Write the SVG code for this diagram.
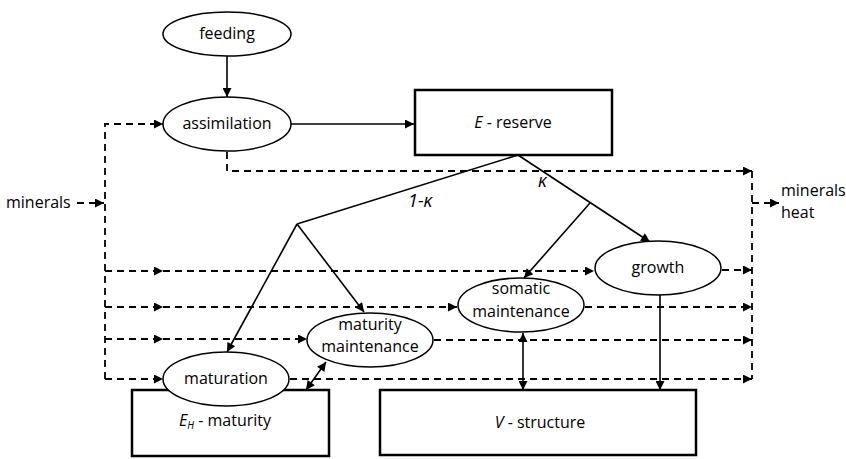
<svg xmlns="http://www.w3.org/2000/svg" width="846" height="459" viewBox="0 0 846 459">
<style>
text{font-family:"Open Sans","Liberation Sans",sans-serif;font-size:16px;fill:#000}
.c{text-anchor:middle}
.i{font-style:italic}
.k{font-style:italic;font-size:18px}
ellipse{fill:#fff;stroke:#000;stroke-width:1.5}
rect{fill:#fff;stroke:#000;stroke-width:2.5}
.s{fill:none;stroke:#000;stroke-width:1.6}
.d{fill:none;stroke:#000;stroke-width:1.8;stroke-dasharray:7 5}
.a{marker-end:url(#ah)}
.b{marker-start:url(#ah);marker-end:url(#ah)}
</style>
<defs>
<marker id="ah" viewBox="0 0 10 10" refX="10" refY="5" markerWidth="11" markerHeight="9" markerUnits="userSpaceOnUse" orient="auto-start-reverse">
<path d="M0,0 L10,5 L0,10 z" fill="#000"/>
</marker>
</defs>
<g id="connectors">
<line class="s a" x1="227" y1="56" x2="227" y2="97"/>
<line class="s a" x1="291" y1="124" x2="414" y2="124"/>
<path class="d a" d="M227,152 V171 H752"/>
<line class="d" x1="752" y1="171" x2="752" y2="379"/>
<line class="d a" x1="752" y1="203" x2="779" y2="203"/>
<line class="d a" x1="77" y1="203" x2="104" y2="203"/>
<path class="d a" d="M105,379 V124 H163"/>
<line class="d a" x1="105" y1="271" x2="163" y2="271"/>
<line class="d a" x1="163" y1="271" x2="594" y2="271"/>
<line class="d a" x1="722" y1="270" x2="752" y2="270"/>
<line class="d a" x1="105" y1="307" x2="163" y2="307"/>
<line class="d a" x1="163" y1="307" x2="457" y2="307"/>
<line class="d a" x1="585" y1="307" x2="752" y2="307"/>
<line class="d a" x1="105" y1="339" x2="163" y2="339"/>
<line class="d a" x1="163" y1="339" x2="307" y2="339"/>
<line class="d a" x1="434" y1="340" x2="752" y2="340"/>
<line class="d a" x1="105" y1="379" x2="163" y2="379"/>
<line class="d a" x1="290" y1="379" x2="752" y2="379"/>
<polyline class="s" points="518,155 297,224"/>
<line class="s a" x1="297" y1="224" x2="227" y2="352"/>
<line class="s a" x1="297" y1="224" x2="364" y2="312"/>
<line class="s a" x1="518" y1="155" x2="650" y2="242"/>
<line class="s a" x1="590" y1="203" x2="524" y2="278"/>
<line class="s b" x1="306" y1="390" x2="326" y2="362"/>
<line class="s b" x1="523" y1="333" x2="523" y2="390"/>
<line class="s a" x1="660" y1="294" x2="660" y2="390"/>
</g>
<g id="feeding"><ellipse cx="227" cy="34" rx="64" ry="22"/><text class="c" x="227" y="39">feeding</text></g>
<g id="assimilation"><ellipse cx="227" cy="124" rx="64" ry="27"/><text class="c" x="227" y="129">assimilation</text></g>
<g id="reserve"><rect x="415" y="90" width="197" height="65"/><text class="c" x="513" y="128"><tspan class="i">E</tspan> - reserve</text></g>
<g id="growth"><ellipse cx="658" cy="268" rx="63" ry="27"/><text class="c" x="658" y="273">growth</text></g>
<g id="somatic-maintenance"><ellipse cx="521" cy="305" rx="63" ry="27"/><text class="c" x="521" y="294">somatic</text><text class="c" x="521" y="317">maintenance</text></g>
<g id="maturity-maintenance"><ellipse cx="370" cy="340" rx="63" ry="27"/><text class="c" x="370" y="330">maturity</text><text class="c" x="370" y="352">maintenance</text></g>
<g id="maturity"><rect x="132" y="390" width="197" height="66"/><text class="c" x="225" y="426"><tspan class="i">E</tspan><tspan class="i" font-size="10" dy="3">H</tspan><tspan dy="-3"> - maturity</tspan></text></g>
<g id="maturation"><ellipse cx="226" cy="379" rx="63" ry="27"/><text class="c" x="226" y="384">maturation</text></g>
<g id="structure"><rect x="380" y="390" width="316" height="65"/><text class="c" x="540" y="428"><tspan class="i">V</tspan> - structure</text></g>
<g id="labels">
<text x="6" y="208">minerals</text>
<text x="781" y="196">minerals</text>
<text x="781" y="218">heat</text>
<text class="k" x="408" y="207">1-κ</text>
<text class="k" x="538" y="187">κ</text>
</g>
</svg>
